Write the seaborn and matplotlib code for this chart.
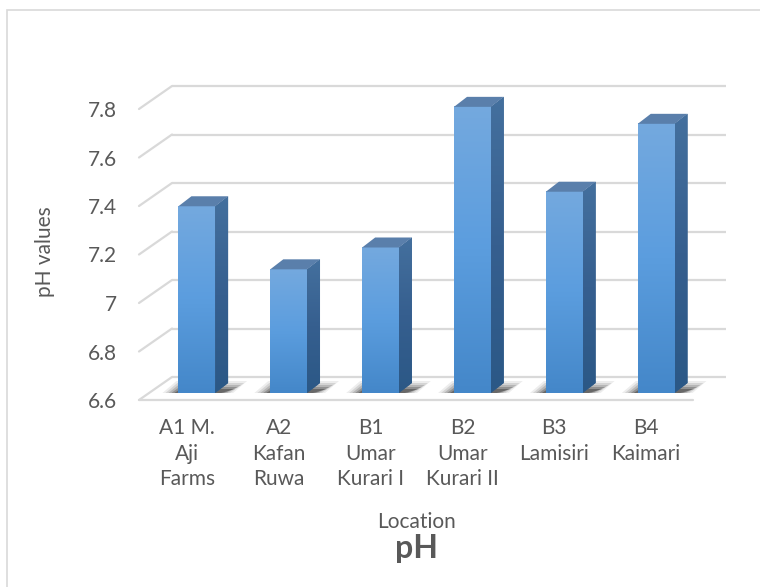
import numpy as np
import pandas as pd
import matplotlib
matplotlib.use("Agg")
import matplotlib.pyplot as plt
import seaborn as sns
from matplotlib.patches import Polygon, Rectangle
from matplotlib.colors import LinearSegmentedColormap

# ---- data ----
locations = ["A1 M.\nAji\nFarms", "A2\nKafan\nRuwa", "B1\nUmar\nKurari I",
             "B2\nUmar\nKurari II", "B3\nLamisiri", "B4\nKaimari"]
ph_values = [7.37, 7.11, 7.20, 7.78, 7.43, 7.71]
y_ticks = [6.6, 6.8, 7.0, 7.2, 7.4, 7.6, 7.8]
y_tick_labels = ["6.6", "6.8", "7", "7.2", "7.4", "7.6", "7.8"]

sns.set_theme(style="white")
plt.rcParams["font.family"] = ["Lato", "DejaVu Sans"]

TXT = "#595959"
GRID = "#d9d9d9"
W, H = 760, 587
fig = plt.figure(figsize=(W / 100, H / 100), dpi=100)

# chart border
fig.patches.append(Rectangle((7 / W, -0.05), 1.2, 1 - 10 / H + 0.05,
                             transform=fig.transFigure, fill=False,
                             edgecolor=GRID, lw=1.2))

ax = fig.add_axes([139 / W, 187 / H, 554 / W, 315.25 / H])
df = pd.DataFrame({"Location": locations, "pH": ph_values})
sns.barplot(data=df, x="Location", y="pH", ax=ax, width=0.40,
            color="#5b9bd5", saturation=1, edgecolor="none", zorder=3)
ax.set_xlim(-0.52, 5.51)
ax.set_ylim(6.6, 7.9)
ymin = 6.6
ax.set_facecolor("none")
for s in ax.spines.values():
    s.set_visible(False)

# pixel -> data conversion
p0, p1 = ax.transData.transform([[0, 0], [1, 1]])
pxx = p1[0] - p0[0]
pxy = p1[1] - p0[1]
def dxp(px): return px / pxx
def dyp(px): return px / pxy

x0l, x1l = ax.get_xlim()
# back wall offset
bwx, bwy = dxp(33), dyp(23)
for t in y_ticks:
    ax.plot([x0l + bwx, x1l + bwx], [t + bwy, t + bwy], color=GRID, lw=1.6,
            zorder=0.5, clip_on=False, solid_capstyle="butt")
    ax.plot([x0l, x0l + bwx], [t, t + bwy], color=GRID, lw=1.6,
            zorder=0.5, clip_on=False)
ax.plot([x0l, x1l], [ymin, ymin], color=GRID, lw=1.6, zorder=0.6, clip_on=False)

# bars with pseudo 3D
bdx, bdy = dxp(10), dyp(7)
sdx, sdy = dxp(13), dyp(10)
front_grad = np.linspace(0, 1, 256).reshape(-1, 1)
cm_front = LinearSegmentedColormap.from_list("f", ["#4487c9", "#5b9dde", "#74a9df"])
cm_side = LinearSegmentedColormap.from_list("s", ["#2b5886", "#365f8f", "#44709e"])

for patch, v in zip(ax.patches, ph_values):
    x = patch.get_x() + bdx
    w = patch.get_width()
    base = ymin + bdy
    top = v + bdy
    patch.set_x(x)
    patch.set_y(base)
    patch.set_height(v - ymin)
    patch.set_clip_on(False)
    # soft shadow on the floor
    for k, a in enumerate([0.07, 0.10, 0.14, 0.20, 0.28]):
        sh = Polygon([(x - dxp(16 - 3 * k), base),
                      (x + w + dxp(18 - 3 * k), base),
                      (x + w + dxp(32 - 3 * k), base + dyp(12 - 2 * k)),
                      (x - dxp(2 - k), base + dyp(12 - 2 * k))],
                     closed=True, facecolor="black", edgecolor="none",
                     alpha=a, zorder=1, clip_on=False)
        ax.add_patch(sh)
    # front gradient
    ax.imshow(front_grad, extent=[x, x + w, base, top], origin="lower",
              cmap=cm_front, aspect="auto", zorder=3.1, clip_on=False,
              interpolation="bilinear")
    # side face
    side = Polygon([(x + w, base), (x + w + sdx, base + sdy),
                    (x + w + sdx, top + sdy), (x + w, top)], closed=True,
                   facecolor="#36618f", edgecolor="none", zorder=3,
                   clip_on=False)
    ax.add_patch(side)
    im2 = ax.imshow(front_grad, extent=[x + w, x + w + sdx, base, top + sdy],
                    origin="lower", cmap=cm_side, aspect="auto", zorder=3.1,
                    interpolation="bilinear")
    im2.set_clip_path(side)
    # top face
    topf = Polygon([(x, top), (x + w, top), (x + w + sdx, top + sdy),
                    (x + sdx, top + sdy)], closed=True, facecolor="#5a7fab",
                   edgecolor="none", zorder=3.2, clip_on=False)
    ax.add_patch(topf)

ax.set_xlim(x0l, x1l)
ax.set_ylim(6.6, 7.9)

ax.set_yticks(y_ticks)
ax.set_yticklabels(y_tick_labels)
ax.tick_params(axis="y", length=0, pad=16, labelsize=15, labelcolor=TXT)
ax.tick_params(axis="x", length=0, pad=13, labelsize=15, labelcolor=TXT)
for lab in ax.get_xticklabels():
    lab.set_linespacing(1.35)

ax.set_xlabel("Location", fontsize=15, color=TXT)
ax.xaxis.set_label_coords(0.5, (587 - 528 - 187) / 315.25)
ax.xaxis.label.set_verticalalignment("baseline")
ax.set_ylabel("pH values", fontsize=15, color=TXT)
ax.yaxis.set_label_coords((45 - 139) / 554, (587 - 252 - 187) / 315.25)
ax.yaxis.label.set_verticalalignment("center")

ax.set_title("pH", fontsize=23, fontweight="bold", color=TXT,
             y=(587 - 566 - 187) / 315.25, va="baseline")

fig.savefig("out.png", dpi=100)
